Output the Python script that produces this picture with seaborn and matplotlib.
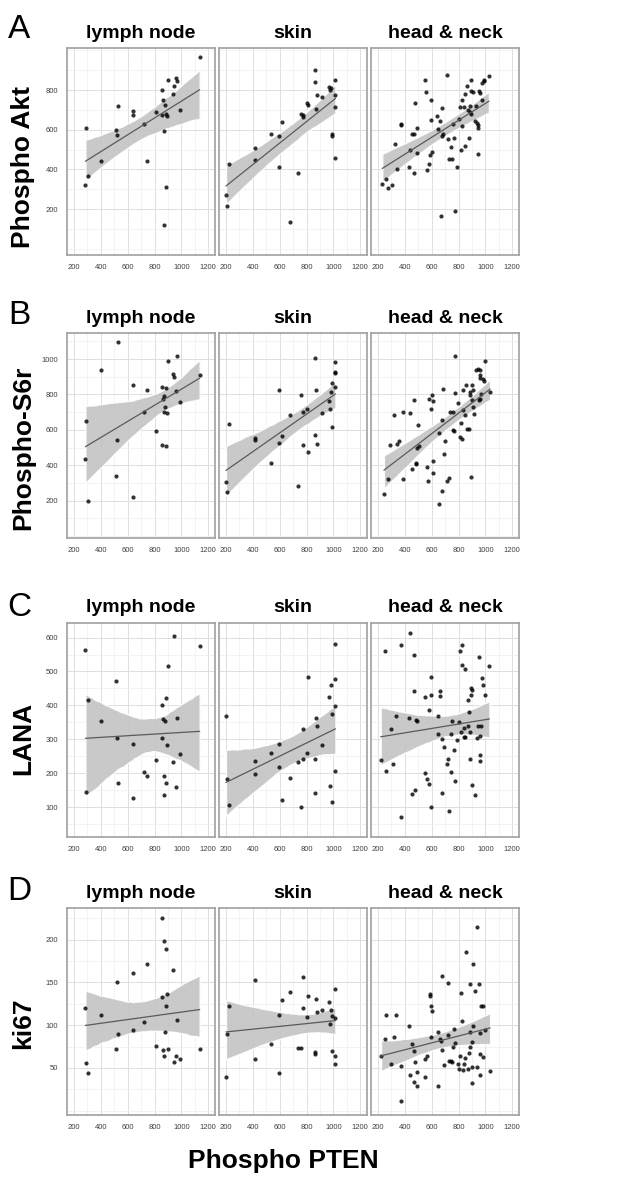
import numpy as np
import pandas as pd
import matplotlib
matplotlib.use("Agg")
import matplotlib.pyplot as plt
import seaborn as sns
from matplotlib.collections import PolyCollection
from matplotlib.ticker import MultipleLocator

# facet / row labels
tissues = ["lymph node", "skin", "head & neck"]
markers = ["Phospho Akt", "Phospho-S6r", "LANA", "ki67"]
letters = ["A", "B", "C", "D"]

# Phospho PTEN (x) for lymph node and skin samples, shared by all rows
pten_lymph = [285, 289, 302, 404, 513, 517, 525, 641, 643, 722, 741, 807, 852, 858,
              862, 868, 870, 874, 883, 886, 890, 902, 938, 945, 962, 970, 992, 1136]
pten_skin = [200, 205, 222, 415, 418, 537, 593, 595, 616, 680, 737, 758, 770, 776, 805,
             814, 860, 863, 868, 880, 915, 968, 977, 983, 987, 990, 1012, 1013, 1015, 1015]

# lymph node values
akt_lymph = [321, 608, 364, 441, 598, 573, 721, 696, 674, 628, 444, 687, 800, 675,
             748, 594, 119, 724, 680, 310, 667, 852, 778, 818, 859, 847, 701, 968]
s6r_lymph = [437, 650, 200, 938, 338, 543, 1096, 219, 853, 701, 825, 592, 842, 514,
             776, 699, 793, 727, 838, 509, 697, 989, 913, 900, 819, 1015, 755, 910]
lana_lymph = [562, 144, 416, 354, 473, 305, 170, 127, 286, 203, 191, 238, 303, 400,
              360, 135, 193, 355, 171, 422, 282, 515, 233, 606, 160, 364, 258, 575]
ki67_lymph = [120, 56, 44, 112, 72, 151, 90, 161, 94, 104, 171, 76, 225, 133,
              71, 198, 64, 92, 189, 123, 137, 72, 164, 57, 64, 106, 60, 72]

# skin values
akt_skin = [271, 217, 426, 510, 448, 579, 566, 414, 640, 134, 384, 679, 663, 674, 733,
            726, 899, 840, 704, 776, 763, 813, 800, 808, 569, 578, 455, 852, 776, 712]
s6r_skin = [307, 247, 633, 554, 541, 415, 528, 825, 565, 682, 283, 799, 514, 701, 718,
            475, 571, 1007, 827, 522, 695, 765, 718, 816, 616, 863, 985, 928, 919, 844]
lana_skin = [369, 183, 107, 237, 198, 259, 286, 219, 120, 187, 232, 99, 331, 242, 261,
             485, 242, 143, 363, 340, 283, 424, 161, 460, 375, 116, 581, 477, 398, 207]
ki67_skin = [40, 90, 122, 153, 61, 78, 112, 44, 130, 139, 73, 73, 156, 120, 110,
             134, 66, 69, 131, 116, 118, 127, 101, 118, 111, 70, 142, 108, 64, 55]

# head & neck (read per row)
akt_hn_x = [232, 259, 271, 306, 323, 343, 372, 374, 431, 441, 453, 470, 478, 468, 490,
            492, 551, 556, 566, 581, 586, 596, 593, 600, 639, 647, 664, 669, 679, 674,
            686, 711, 723, 731, 746, 748, 756, 763, 770, 788, 800, 810, 819, 824, 829,
            839, 846, 846, 866, 873, 878, 883, 886, 890, 895, 893, 905, 920, 930, 935,
            944, 947, 954, 959, 947, 972, 972, 986, 991, 1026]
akt_hn_y = [328, 352, 305, 320, 527, 402, 631, 625, 411, 498, 579, 579, 734, 382, 611,
            482, 852, 792, 397, 428, 471, 751, 650, 485, 669, 605, 642, 165, 709, 566,
            578, 876, 552, 453, 512, 453, 630, 557, 190, 414, 653, 712, 500, 749, 620,
            712, 520, 780, 820, 701, 556, 689, 721, 677, 850, 793, 788, 643, 717, 633,
            623, 611, 797, 787, 475, 751, 834, 845, 852, 871]
s6r_hn_x = [244, 274, 286, 321, 338, 358, 385, 387, 441, 454, 466, 483, 483, 488, 500,
            508, 565, 569, 582, 594, 599, 606, 609, 611, 656, 656, 673, 678, 685, 690,
            698, 717, 730, 739, 756, 759, 764, 776, 776, 796, 808, 818, 828, 833, 835,
            850, 855, 860, 880, 882, 887, 892, 897, 899, 904, 907, 916, 929, 941, 949,
            958, 958, 958, 961, 968, 981, 986, 998, 1035]
s6r_hn_y = [236, 324, 516, 684, 520, 535, 324, 703, 693, 381, 767, 415, 407, 496, 625,
            509, 388, 309, 774, 718, 799, 765, 354, 422, 181, 580, 656, 255, 831, 466,
            539, 313, 330, 701, 701, 599, 594, 806, 1015, 750, 561, 641, 550, 712, 825,
            684, 855, 603, 603, 816, 797, 336, 851, 769, 731, 825, 689, 938, 942, 769,
            938, 912, 891, 772, 801, 885, 876, 987, 812]
lana_hn_x = [220, 253, 263, 300, 315, 335, 368, 368, 428, 438, 465, 468, 450, 475, 485,
             488, 548, 553, 565, 580, 583, 595, 595, 598, 648, 645, 665, 665, 675, 678,
             688, 713, 720, 728, 743, 745, 753, 765, 775, 790, 800, 810, 818, 825, 828,
             840, 848, 843, 850, 868, 873, 880, 885, 888, 893, 893, 900, 898, 923, 938,
             945, 950, 958, 960, 960, 965, 978, 980, 995, 1030]
lana_hn_y = [239, 560, 206, 330, 228, 369, 578, 72, 363, 614, 549, 443, 138, 151, 357,
             353, 426, 200, 183, 168, 387, 485, 431, 99, 369, 315, 443, 429, 141, 300,
             276, 227, 242, 90, 203, 316, 355, 270, 178, 299, 350, 561, 322, 520, 578,
             333, 508, 308, 308, 416, 338, 382, 242, 322, 431, 451, 446, 166, 135, 303,
             338, 544, 254, 237, 311, 338, 480, 460, 431, 517]
ki67_hn_x = [223, 255, 263, 300, 318, 335, 368, 373, 428, 438, 455, 468, 475, 468, 488,
             490, 550, 553, 568, 588, 588, 598, 600, 598, 645, 648, 665, 668, 675, 680,
             688, 718, 723, 730, 743, 750, 755, 763, 775, 793, 803, 813, 820, 825, 833,
             843, 848, 855, 873, 878, 883, 888, 888, 898, 900, 900, 905, 910, 925, 935,
             940, 955, 958, 960, 963, 965, 980, 983, 995, 1035]
ki67_hn_y = [64, 84, 112, 55, 86, 112, 11, 52, 99, 42, 78, 70, 57, 33, 45,
             29, 39, 61, 64, 137, 134, 123, 117, 86, 92, 29, 84, 82, 158, 71,
             54, 88, 149, 58, 58, 57, 75, 96, 79, 55, 49, 64, 138, 105, 48,
             55, 62, 185, 49, 68, 74, 92, 148, 32, 80, 51, 99, 172, 140, 51,
             215, 148, 91, 66, 42, 123, 123, 63, 94, 47]

# per-row axis setup
x_ticks = [200, 400, 600, 800, 1000, 1200]
row_ylims = [(-32, 1012), (-11, 1147), (12, 643), (-5, 237)]
row_yticks = [[200, 400, 600, 800],
              [200, 400, 600, 800, 1000],
              [100, 200, 300, 400, 500, 600],
              [50, 100, 150, 200]]

panel_x = [[pten_lymph, pten_skin, akt_hn_x],
           [pten_lymph, pten_skin, s6r_hn_x],
           [pten_lymph, pten_skin, lana_hn_x],
           [pten_lymph, pten_skin, ki67_hn_x]]
panel_y = [[akt_lymph, akt_skin, akt_hn_y],
           [s6r_lymph, s6r_skin, s6r_hn_y],
           [lana_lymph, lana_skin, lana_hn_y],
           [ki67_lymph, ki67_skin, ki67_hn_y]]

sns.set_style("white")
plt.rcParams['font.family'] = ['Liberation Sans', 'DejaVu Sans']
plt.rcParams['text.color'] = 'black'

W, H = 618, 1179
fig = plt.figure(figsize=(W / 100, H / 100), dpi=100)

row_top = [48, 333, 623, 908]
row_bottom = [255, 538, 837, 1115]
col_left = [67, 219, 371]
col_w = 148

for r in range(4):
    for c in range(3):
        ax = fig.add_axes([col_left[c] / W, 1 - row_bottom[r] / H,
                           col_w / W, (row_bottom[r] - row_top[r]) / H])
        df = pd.DataFrame({'pten': panel_x[r][c], 'val': panel_y[r][c]})
        sns.regplot(data=df, x='pten', y='val', ax=ax, ci=95, n_boot=1000, seed=3,
                    color='#5a5a5a',
                    scatter_kws=dict(s=9, color='black', linewidths=0, zorder=3),
                    line_kws=dict(color='#5a5a5a', lw=0.9, zorder=4))
        for coll in ax.collections:
            if isinstance(coll, PolyCollection):
                coll.set_facecolor('#c4c4c4')
                coll.set_alpha(0.9)
                coll.set_zorder(2)

        ax.set_xlim(148, 1250)
        ax.set_ylim(*row_ylims[r])
        ax.set_xticks(x_ticks)
        ax.xaxis.set_minor_locator(MultipleLocator(100))
        ax.set_yticks(row_yticks[r])
        ax.yaxis.set_minor_locator(MultipleLocator((row_yticks[r][1] - row_yticks[r][0]) / 2))
        ax.set_axisbelow(True)
        ax.grid(which='major', color='#dedede', lw=0.7)
        ax.grid(which='minor', color='#efefef', lw=0.5)
        for s in ax.spines.values():
            s.set_color('#a0a0a0')
            s.set_linewidth(1.2)
        ax.tick_params(which='major', length=2.2, width=0.5, color='#8c8c8c',
                       labelsize=5.5, labelcolor='#404040', pad=4)
        ax.tick_params(which='minor', length=0)
        if c > 0:
            ax.tick_params(left=False, labelleft=False)
        ax.set_xlabel('')
        ax.set_ylabel('')

        # facet strip title
        fig.text((col_left[c] + col_w / 2) / W, 1 - (row_top[r] - 15) / H, tissues[c],
                 ha='center', va='center', fontsize=14, fontweight='bold', color='black')

# row letters and y titles
letter_y = [29, 315, 607, 892]
ylab_y = [167, 448, 738, 1023]
for r in range(4):
    fig.text(19 / W, 1 - letter_y[r] / H, letters[r], ha='center', va='center',
             fontsize=24, color='black')
    fig.text(23 / W, 1 - ylab_y[r] / H, markers[r], ha='center', va='center',
             rotation=90, fontsize=19, fontweight='bold', color='black')

fig.text(283 / W, 1 - 1161 / H, "Phospho PTEN", ha='center', va='center',
         fontsize=19, fontweight='bold', color='black')

fig.savefig("out.png", dpi=100)
